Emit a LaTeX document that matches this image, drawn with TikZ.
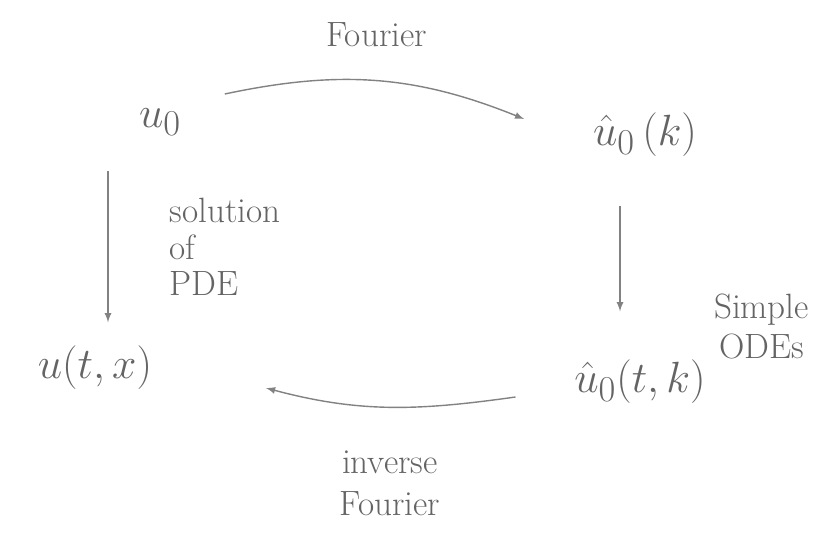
\documentclass[tikz,border=0pt]{standalone}
\usepackage{amsmath,amssymb}
\usepackage{tikz}
\usetikzlibrary{arrows,positioning,calc}
\usepackage{xcolor}
\definecolor{pencil}{RGB}{100, 100, 100}
\definecolor{lightpencil}{RGB}{130, 130, 130}

\begin{document}
\begin{tikzpicture}[x=0.02cm, y=-0.02cm, >=latex]
    \tikzstyle{term} = [text=pencil, font=\fontsize{32}{36}\selectfont, inner sep=2pt]
    \tikzstyle{note} = [text=pencil, font=\fontsize{20}{23}\selectfont, align=center]
    \tikzstyle{conn} = [->, lightpencil, thick]

    \useasboundingbox (0,0) rectangle (819,534);

    \node [term] (u0) at (160,122) {$u_0$};
    \node [term] (uk) at (645,135) {$\hat{u}_0\,(k)$};
    \node [term] (utx) at (95,368) {$u(t,x)$};
    \node [term] (utk) at (640,382) {$\hat{u}_0(t,k)$};

    \draw [conn] ($(u0.east)+(40,-28)$) to[out=12, in=158] node[midway, above=0.55cm, note] {Fourier} ($(uk.west)+(-65,-16)$);
    \draw [conn] ($(uk.south)+(-25,45)$) -- ($(utk.north)+(-20,-45)$) node[pos=1, right=1.75cm, yshift=-0.3cm, note] {Simple\\ODEs};
    \draw [conn] ($(utk.west)+(-55,15)$) to[out=188, in=-15] node[midway, below=0.75cm, note] {inverse\\[1pt]Fourier} ($(utx.east)+(110,20)$);
    \draw [conn] ($(u0.south)+(-52,32)$) -- ($(utx.north)+(13,-20)$) node[midway, right=1.1cm, note, align=left, font=\fontsize{20}{21}\selectfont] {solution\\of\\PDE};
\end{tikzpicture}
\end{document}
